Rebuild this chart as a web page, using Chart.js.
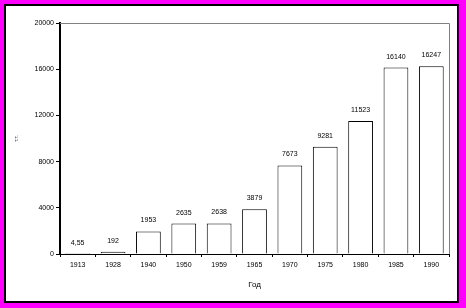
<!DOCTYPE html>
<html>
<head>
<meta charset="utf-8">
<script src="https://cdn.jsdelivr.net/npm/chart.js@4"></script>
<style>
  html, body { margin: 0; padding: 0; background: #ff00ff; }
  #wrap { width: 466px; height: 308px; }
</style>
</head>
<body>
<div id="wrap"><canvas id="chart" width="466" height="308"></canvas></div>
<script>
const years = ['1913', '1928', '1940', '1950', '1959', '1965', '1970', '1975', '1980', '1985', '1990'];
const values = [4.55, 192, 1953, 2635, 2638, 3879, 7673, 9281, 11523, 16140, 16247];
const valueLabels = ['4,55', '192', '1953', '2635', '2638', '3879', '7673', '9281', '11523', '16140', '16247'];
const yTicks = [0, 4000, 8000, 12000, 16000, 20000];

const FONT = 'Liberation Sans, Arial, sans-serif';

// white panel with black frame on the magenta page
const panel = {
  id: 'panel',
  beforeDraw(chart) {
    const ctx = chart.ctx;
    ctx.save();
    ctx.fillStyle = '#ffffff';
    ctx.fillRect(5, 5, 453, 297);
    ctx.strokeStyle = '#000000';
    ctx.lineWidth = 2;
    ctx.strokeRect(5, 5, 453, 297);
    ctx.restore();
  },
  afterDatasetsDraw(chart) {
    const ctx = chart.ctx;
    const a = chart.chartArea;
    ctx.save();
    // gray top / right edges of plot area
    ctx.strokeStyle = '#808080';
    ctx.lineWidth = 1;
    ctx.beginPath();
    ctx.moveTo(a.left, a.top + 0.5);
    ctx.lineTo(a.right + 0.5, a.top + 0.5);
    ctx.lineTo(a.right + 0.5, a.bottom);
    ctx.stroke();
    // value labels above bars
    ctx.fillStyle = '#000';
    ctx.font = '7px ' + FONT;
    ctx.textAlign = 'center';
    ctx.textBaseline = 'middle';
    chart.getDatasetMeta(0).data.forEach((bar, i) => {
      ctx.fillText(valueLabels[i], bar.x, bar.y - 11);
    });
    ctx.restore();
  }
};

new Chart(document.getElementById('chart'), {
  type: 'bar',
  data: {
    labels: years,
    datasets: [{
      data: values,
      backgroundColor: '#ffffff',
      borderColor: '#000000',
      borderWidth: 1,
      borderSkipped: 'bottom',
      barPercentage: 0.7,
      categoryPercentage: 1
    }]
  },
  options: {
    responsive: false,
    animation: false,
    devicePixelRatio: 1,
    layout: { padding: { left: 0, top: 23, right: 17, bottom: 0 } },
    plugins: {
      legend: { display: false },
      tooltip: { enabled: false }
    },
    scales: {
      x: {
        afterFit(scale) { scale.height = 54; },
        grid: {
          drawOnChartArea: false,
          color: '#000',
          tickColor: '#000',
          tickLength: 3
        },
        border: { color: '#000', width: 1 },
        ticks: { color: '#000', font: { family: FONT, size: 7 }, padding: 4, maxRotation: 0 },
        title: {
          display: true,
          text: 'Год',
          color: '#000',
          font: { family: FONT, size: 8 },
          padding: { top: 4, bottom: 18 }
        }
      },
      y: {
        min: 0,
        max: 20000,
        afterFit(scale) { scale.width = 60; },
        afterBuildTicks(scale) { scale.ticks = yTicks.map(v => ({ value: v })); },
        grid: {
          drawOnChartArea: false,
          color: '#000',
          tickColor: '#000',
          tickLength: 4
        },
        border: { color: '#000', width: 2 },
        ticks: {
          color: '#000',
          font: { family: FONT, size: 7 },
          padding: 2,
          callback: v => String(v)
        },
        title: {
          display: true,
          text: 'т.т.',
          color: '#000',
          font: { family: FONT, size: 5 },
          padding: { top: 14, bottom: 0 }
        }
      }
    }
  },
  plugins: [panel]
});
</script>
</body>
</html>
